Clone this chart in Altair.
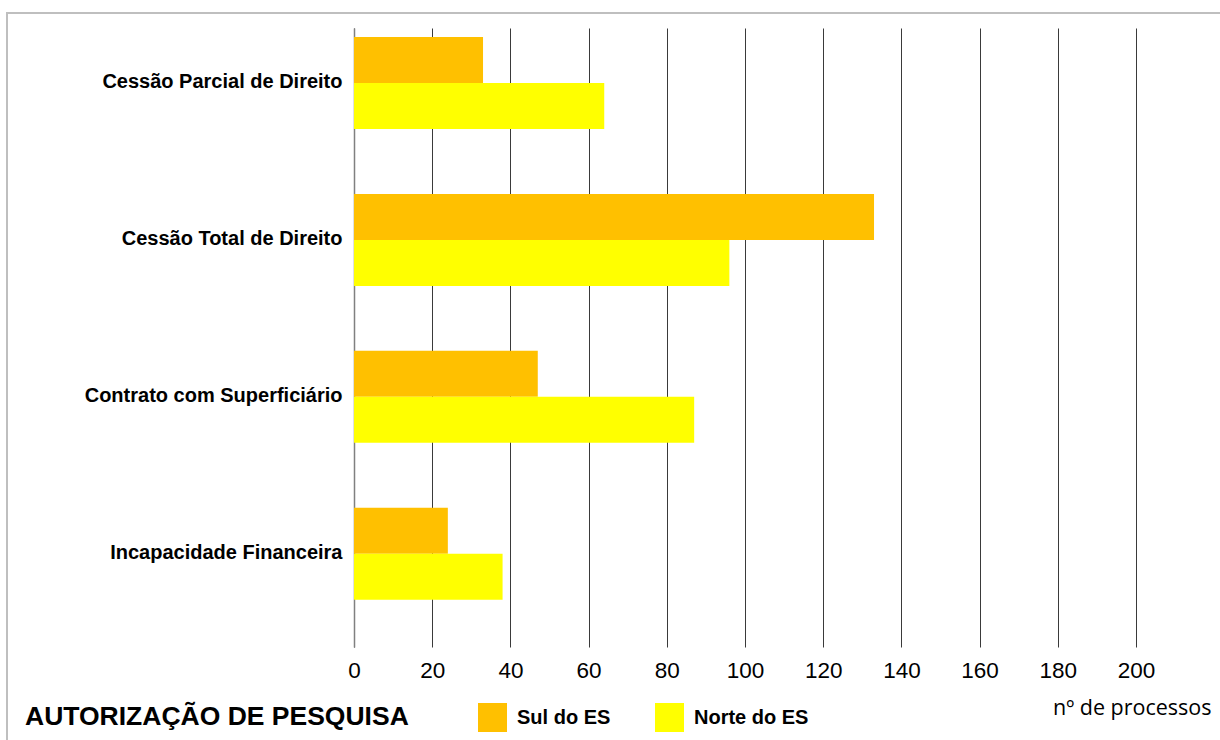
import altair as alt
import pandas as pd

# Authorisation requests by type, split by region of Espírito Santo
categories = [
    "Cessão Parcial de Direito",
    "Cessão Total de Direito",
    "Contrato com Superficiário",
    "Incapacidade Financeira",
]
series = ["Sul do ES", "Norte do ES"]
sul_values = [33, 133, 47, 24]
norte_values = [64, 96, 87, 38]
colors = ["#FFC000", "#FFFF00"]
x_ticks = list(range(0, 201, 20))

rows = []
for cat, s, n in zip(categories, sul_values, norte_values):
    rows.append({"tipo": cat, "regiao": series[0], "processos": s})
    rows.append({"tipo": cat, "regiao": series[1], "processos": n})
df = pd.DataFrame(rows)

SANS = "Liberation Sans, Arial, sans-serif"

PLOT_W, PLOT_H = 782, 619
LEFT, TOP = 354, 28

bars = alt.Chart(df).mark_bar(stroke=None).encode(
    x=alt.X(
        "processos:Q",
        scale=alt.Scale(domain=[0, 200], nice=False, zero=True),
        axis=alt.Axis(
            values=x_ticks,
            grid=True,
            gridColor="#3a3a3a",
            gridWidth=1,
            domain=False,
            ticks=False,
            labelFlush=False,
            labelFont=SANS,
            labelFontSize=22.5,
            labelColor="#000000",
            labelPadding=12,
            title="nº de processos",
            titleFont="Open Sans",
            titleFontSize=21.5,
            titleFontWeight="normal",
            titleColor="#000000",
            titleAlign="right",
            titleAnchor="end",
            titleBaseline="alphabetic",
            titleX=857,
            titleY=67,
        ),
    ),
    y=alt.Y(
        "tipo:N",
        sort=categories,
        scale=alt.Scale(paddingInner=0.4135, paddingOuter=0.18, align=0.161),
        axis=alt.Axis(
            title=None,
            ticks=False,
            domain=True,
            domainColor="#808080",
            domainWidth=1.5,
            labelFont=SANS,
            labelFontSize=20,
            labelFontWeight="bold",
            labelColor="#000000",
            labelPadding=12,
            labelOffset=-1,
            labelLimit=400,
        ),
    ),
    yOffset=alt.YOffset(
        "regiao:N",
        sort=series,
        scale=alt.Scale(paddingInner=0, paddingOuter=0),
    ),
    color=alt.Color(
        "regiao:N",
        sort=series,
        scale=alt.Scale(domain=series, range=colors),
        legend=alt.Legend(
            title=None,
            orient="none",
            direction="horizontal",
            legendX=124,
            legendY=675,
            padding=0,
            symbolType="square",
            symbolSize=841,
            symbolStrokeWidth=0,
            symbolOpacity=1,
            labelFont=SANS,
            labelFontSize=20,
            labelFontWeight="bold",
            labelColor="#000000",
            labelOffset=10,
            columnPadding=44,
            labelLimit=300,
        ),
    ),
)

# Outer chart-area frame
frame = alt.Chart(pd.DataFrame({"k": [0]})).mark_rect(
    fill=None, stroke="#BFBFBF", strokeWidth=2
).encode(
    x=alt.value(7 - LEFT),
    x2=alt.value(1240 - LEFT),
    y=alt.value(13 - TOP),
    y2=alt.value(760 - TOP),
)

chart = (
    alt.layer(frame, bars)
    .properties(
        width=PLOT_W,
        height=PLOT_H,
        title=alt.TitleParams(
            "AUTORIZAÇÃO DE PESQUISA",
            orient="bottom",
            anchor="start",
            frame="group",
            font=SANS,
            fontSize=26.5,
            fontWeight="bold",
            color="#000000",
            baseline="alphabetic",
            dx=25 - LEFT,
            dy=-36,
            offset=0,
        ),
        autosize=alt.AutoSizeParams(type="none"),
        padding={"left": LEFT, "top": TOP, "right": 1220 - LEFT - PLOT_W, "bottom": 740 - TOP - PLOT_H},
        background="#FFFFFF",
    )
    .configure_view(stroke=None)
)

chart.save("out.html", embed_options={"renderer": "svg", "actions": False})
